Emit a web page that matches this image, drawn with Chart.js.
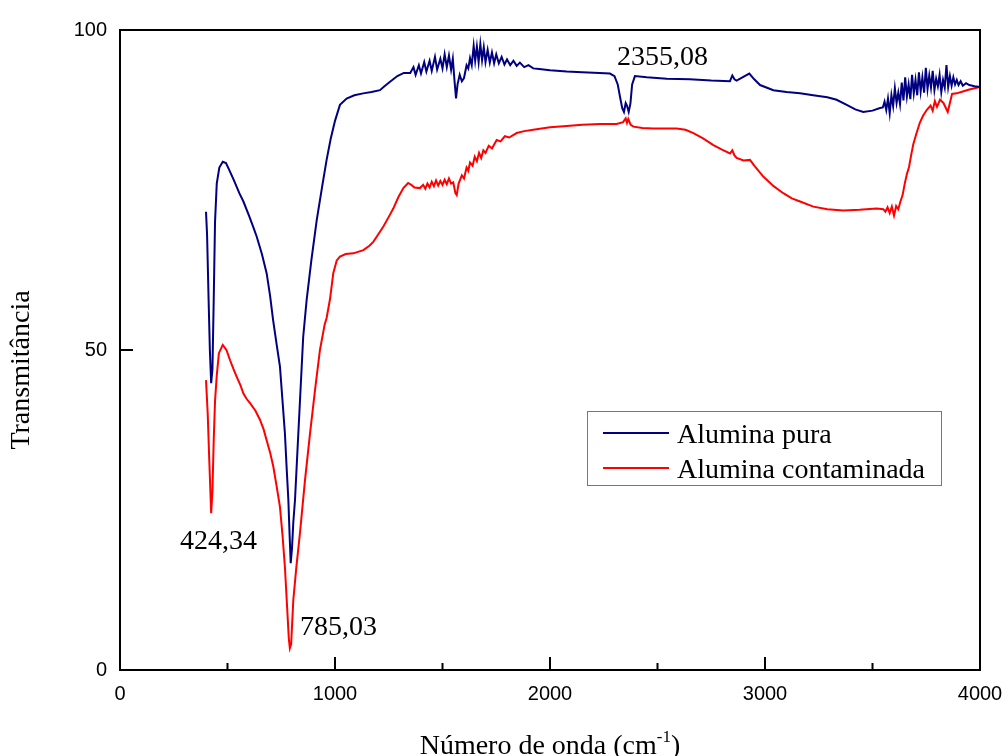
<!DOCTYPE html>
<html>
<head>
<meta charset="utf-8">
<script src="https://cdn.jsdelivr.net/npm/chart.js@4"></script>
<style>
  body { margin: 0; background: #fff; }
  #wrap { width: 1008px; height: 756px; position: relative; }
</style>
</head>
<body>
<div id="wrap"><canvas id="myChart"></canvas></div>
<script>

// Alumina pura (blue)
const pureX = [400, 405, 412, 418, 424, 430, 436, 442, 450, 462, 478, 493, 510, 530, 555, 574, 600, 620, 636, 660, 682, 698, 712, 728, 744, 756, 767, 776, 783, 789, 794, 800, 806, 814, 825, 837, 852, 868, 890, 915, 940, 961, 980, 1000, 1023, 1054, 1090, 1131, 1170, 1209, 1230, 1256, 1290, 1320,
  1350, 1365, 1375, 1390, 1400, 1415, 1425, 1440, 1450, 1465, 1475, 1490, 1500, 1510, 1520, 1530, 1540, 1548, 1556, 1563, 1570, 1580, 1590, 1600, 1612, 1620, 1628, 1636, 1645, 1652, 1660, 1668, 1676, 1684, 1692, 1700, 1710, 1720, 1730, 1740, 1750, 1762, 1775, 1788, 1800, 1815, 1830, 1845, 1860, 1880, 1900, 1922, 1950, 2000, 2078, 2150, 2230, 2279,
  2300, 2315, 2326, 2336, 2344, 2352, 2358, 2366, 2374, 2382, 2395, 2450, 2543, 2650, 2750, 2837, 2848, 2858, 2868, 2895, 2927, 2950, 2977, 3039, 3100, 3163, 3224, 3290, 3333, 3380, 3420, 3457, 3500, 3535,
  3548, 3556, 3564, 3572, 3580, 3588, 3596, 3604, 3612, 3620,
  3628, 3636, 3644, 3652, 3660, 3668, 3676, 3684, 3692, 3700,
  3708, 3716, 3724, 3732, 3740, 3748, 3756, 3764, 3772, 3780,
  3788, 3796, 3804, 3812, 3820, 3828, 3836, 3844, 3852, 3860,
  3868, 3876, 3884, 3892, 3900, 3910, 3920, 3935, 3950, 3975, 4000];
const pureY = [71.6, 68, 58, 50, 44.8, 47, 58, 70, 76, 78.5, 79.4, 79.2, 78, 76.5, 74.5, 73.2, 71, 69.2, 67.7, 65, 62, 58.5, 54.7, 51, 47.4, 42, 37, 31, 26.6, 21, 16.7, 19, 23, 26.6, 34, 42, 52, 57.8, 64, 70.3, 75.5, 79.7, 83, 85.8, 88.3, 89.3, 89.8, 90.1, 90.3, 90.6, 91.2, 91.9, 92.8, 93.3,
  93.3, 94.2, 93.0, 94.5, 93.2, 95.0, 93.5, 95.2, 93.6, 95.8, 93.8, 95.5, 94.0, 96.2, 94.2, 96.0, 93.8, 95.5, 92.0, 89.3, 91.5, 93.0, 92.0, 92.5, 94.5, 94.0, 95.6, 94.5, 97.5, 95.2, 97.4, 95.0, 97.8, 95.3, 97.3, 95.0, 96.9, 94.9, 96.5, 94.8, 96.2, 94.8, 95.8, 94.6, 95.4, 94.5, 95.2, 94.4, 94.9, 94.2, 94.5, 94.0, 93.9, 93.7, 93.5, 93.4, 93.3, 93.2,
  92.8, 91.5, 89.5, 87.8, 87.2, 88.6, 88.2, 87.2, 88.5, 91.5, 92.8, 92.6, 92.4, 92.3, 92.1, 92.0, 92.9, 92.3, 92.1, 92.6, 93.2, 92.3, 91.4, 90.6, 90.3, 90.1, 89.8, 89.5, 89.1, 88.3, 87.6, 87.2, 87.4, 87.8,
  87.9, 88.8, 87.5, 89.3, 87.0, 89.8, 88.1, 90.9, 88.6, 90.2,
  88.4, 91.8, 89.0, 92.6, 89.6, 91.5, 89.2, 93.0, 90.1, 92.2,
  89.8, 93.4, 90.4, 92.6, 90.2, 94.1, 90.8, 92.9, 91.0, 93.6,
  90.6, 92.4, 91.2, 93.0, 90.3, 92.2, 91.0, 94.5, 91.1, 92.8,
  91.3, 92.6, 91.5, 92.2, 91.4, 92.0, 91.3, 91.7, 91.4, 91.2, 91.1];

// Alumina contaminada (red)
const contX = [400, 408, 415, 424, 430, 436, 442, 450, 460, 478, 495, 512, 528, 543, 560, 574, 590, 605, 630, 651, 668, 682, 698, 713, 728, 744, 756, 767, 777, 785, 790, 796, 806, 820, 837, 860, 884, 908, 930, 952, 961, 977, 992, 1008, 1023, 1050, 1085, 1132, 1160, 1178, 1200, 1225, 1250, 1271, 1295, 1318, 1340, 1355, 1370, 1395,
  1410, 1420, 1430, 1440, 1450, 1460, 1470, 1480, 1490, 1500, 1510, 1520, 1530, 1540, 1550, 1560, 1566, 1575, 1590, 1600, 1612, 1620, 1628, 1640, 1650, 1660, 1670, 1680, 1690, 1700, 1715, 1730, 1752, 1770, 1790, 1810, 1845, 1880, 1922, 2000, 2078, 2150, 2233, 2310,
  2340, 2352, 2358, 2364, 2375, 2388, 2430, 2481, 2589, 2630, 2667, 2710, 2760, 2800, 2837, 2848, 2858, 2868, 2900, 2930, 2950, 2992, 3040, 3085, 3125, 3163, 3225, 3290, 3364, 3440, 3519, 3550,
  3560, 3570, 3580, 3590, 3600, 3610, 3620, 3630, 3640, 3650, 3660, 3670, 3680, 3690, 3705, 3720, 3735, 3752, 3770, 3780, 3790, 3800, 3814, 3830, 3850, 3870, 3891, 3920, 3950, 3975, 4000];
const contY = [45.3, 40, 33, 24.5, 28, 36, 42, 46, 49.5, 50.8, 50, 48.4, 47, 45.8, 44.5, 43.2, 42.3, 41.7, 40.5, 39.1, 37.6, 35.9, 34, 31.8, 28.8, 25.5, 21, 16.1, 10, 5, 3.4, 4, 10.9, 16, 21.4, 29.5, 37, 44, 50, 54, 55, 58, 62, 64, 64.6, 65.0, 65.1, 65.6, 66.3, 66.9, 68, 69.3, 70.8, 72.1, 73.9, 75.3, 76.1, 75.8, 75.4, 75.3,
  75.8, 75.2, 76.0, 75.4, 76.3, 75.6, 76.5, 75.7, 76.4, 75.8, 76.6, 75.9, 76.8, 76.0, 76.2, 74.5, 74.2, 76.0, 77.3, 76.8, 78.5, 78.0, 79.3, 78.8, 80.2, 79.5, 80.8, 80.0, 81.2, 80.8, 81.9, 81.5, 82.8, 82.6, 83.4, 83.2, 83.9, 84.2, 84.4, 84.8, 85.0, 85.2, 85.3, 85.3,
  85.6, 86.2, 85.5, 86.1, 85.2, 84.9, 84.7, 84.6, 84.6, 84.4, 83.9, 83.1, 82.0, 81.3, 80.7, 81.2, 80.4, 80.0, 79.6, 79.7, 78.8, 77.1, 75.6, 74.5, 73.7, 73.2, 72.4, 72.0, 71.8, 71.9, 72.1, 72.0,
  71.6, 72.3, 71.4, 72.4, 71.0, 72.5, 72.0, 73.2, 74.2, 76.0, 77.5, 78.6, 80.5, 82.2, 83.9, 85.5, 86.6, 87.5, 88.2, 87.4, 88.9, 88.0, 89.1, 88.6, 87.2, 90.0, 90.1, 90.4, 90.7, 90.9, 91.1];

const seriesNames = ['Alumina pura', 'Alumina contaminada'];
const seriesColors = ['#000080', '#ff0000'];
const peakLabels = ['424,34', '785,03', '2355,08'];
const xMajor = [0, 1000, 2000, 3000, 4000];
const xMinor = [500, 1500, 2500, 3500];
const yMajor = [0, 50, 100];

function toPoints(xs, ys) {
  return xs.map(function (x, i) { return { x: x, y: ys[i] }; });
}

const serif = "'Liberation Serif', 'Times New Roman', serif";

// frame, inward ticks, titles, peak labels, legend box
const decor = {
  id: 'decor',
  afterDraw: function (chart) {
    const ctx = chart.ctx;
    const a = chart.chartArea;
    const xs = chart.scales.x;
    const ys = chart.scales.y;
    ctx.save();
    ctx.strokeStyle = '#000';
    ctx.lineWidth = 2;
    ctx.strokeRect(a.left, a.top, a.right - a.left, a.bottom - a.top);

    ctx.beginPath();
    xMajor.forEach(function (v) {
      const px = xs.getPixelForValue(v);
      ctx.moveTo(px, a.bottom); ctx.lineTo(px, a.bottom - 13);
    });
    xMinor.forEach(function (v) {
      const px = xs.getPixelForValue(v);
      ctx.moveTo(px, a.bottom); ctx.lineTo(px, a.bottom - 7);
    });
    yMajor.forEach(function (v) {
      const py = ys.getPixelForValue(v);
      ctx.moveTo(a.left, py); ctx.lineTo(a.left + 13, py);
    });
    ctx.stroke();

    ctx.fillStyle = '#000';
    ctx.font = '28px ' + serif;
    ctx.textBaseline = 'alphabetic';
    ctx.textAlign = 'left';
    // peak labels: left edge / baseline in data units
    const spots = [[279, 18.9], [837, 5.5], [2312, 94.5]];
    peakLabels.forEach(function (t, i) {
      ctx.fillText(t, xs.getPixelForValue(spots[i][0]), ys.getPixelForValue(spots[i][1]));
    });

    // x title with superscript
    const main = 'Número de onda (cm';
    ctx.font = '28px ' + serif;
    const w1 = ctx.measureText(main).width;
    const w3 = ctx.measureText(')').width;
    ctx.font = '17px ' + serif;
    const w2 = ctx.measureText('-1').width;
    let x0 = (a.left + a.right) / 2 - (w1 + w2 + w3) / 2;
    const base = 754;
    ctx.font = '28px ' + serif;
    ctx.fillText(main, x0, base);
    ctx.font = '17px ' + serif;
    ctx.fillText('-1', x0 + w1, base - 12);
    ctx.font = '28px ' + serif;
    ctx.fillText(')', x0 + w1 + w2, base);

    // y title
    ctx.save();
    ctx.translate(22, 370);
    ctx.rotate(-Math.PI / 2);
    ctx.textAlign = 'center';
    ctx.textBaseline = 'middle';
    ctx.fillText('Transmitância', 0, 0);
    ctx.restore();

    // legend
    ctx.strokeStyle = '#777';
    ctx.lineWidth = 1;
    ctx.strokeRect(587.5, 411.5, 354, 74);
    seriesNames.forEach(function (name, i) {
      const ly = 433 + i * 35;
      ctx.strokeStyle = seriesColors[i];
      ctx.lineWidth = 2;
      ctx.beginPath();
      ctx.moveTo(603, ly); ctx.lineTo(669, ly);
      ctx.stroke();
      ctx.fillStyle = '#000';
      ctx.font = '28px ' + serif;
      ctx.textAlign = 'left';
      ctx.fillText(name, 677, ly + 10);
    });
    ctx.restore();
  }
};

const data = {
  datasets: [
    {
      label: seriesNames[0],
      data: toPoints(pureX, pureY),
      borderColor: seriesColors[0],
      borderWidth: 2,
      pointRadius: 0,
      tension: 0,
      fill: false
    },
    {
      label: seriesNames[1],
      data: toPoints(contX, contY),
      borderColor: seriesColors[1],
      borderWidth: 2,
      pointRadius: 0,
      tension: 0,
      fill: false
    }
  ]
};

const config = {
  type: 'line',
  data: data,
  options: {
    responsive: true,
    maintainAspectRatio: false,
    animation: false,
    layout: { padding: { top: 30, right: 28, left: 0, bottom: 0 } },
    plugins: {
      legend: { display: false },
      tooltip: { enabled: false }
    },
    scales: {
      x: {
        type: 'linear',
        min: 0,
        max: 4000,
        afterBuildTicks: function (scale) {
          scale.ticks = xMajor.map(function (v) { return { value: v }; });
        },
        afterFit: function (scale) {
          scale.height = 86;
          scale.paddingLeft = 0;
          scale.paddingRight = 0;
        },
        grid: { display: false, drawTicks: false },
        border: { display: false },
        ticks: {
          color: '#000',
          padding: 12,
          maxRotation: 0,
          callback: function (v) { return String(v); },
          font: { family: "'Liberation Sans', Arial, sans-serif", size: 20 }
        }
      },
      y: {
        min: 0,
        max: 100,
        afterBuildTicks: function (scale) {
          scale.ticks = yMajor.map(function (v) { return { value: v }; });
        },
        afterFit: function (scale) {
          scale.width = 120;
          scale.paddingTop = 0;
          scale.paddingBottom = 0;
        },
        grid: { display: false, drawTicks: false },
        border: { display: false },
        ticks: {
          color: '#000',
          padding: 13,
          callback: function (v) { return String(v); },
          font: { family: "'Liberation Sans', Arial, sans-serif", size: 20 }
        }
      }
    }
  },
  plugins: [decor]
};

const ctx = document.getElementById('myChart');
new Chart(ctx, config);

</script>
</body>
</html>
